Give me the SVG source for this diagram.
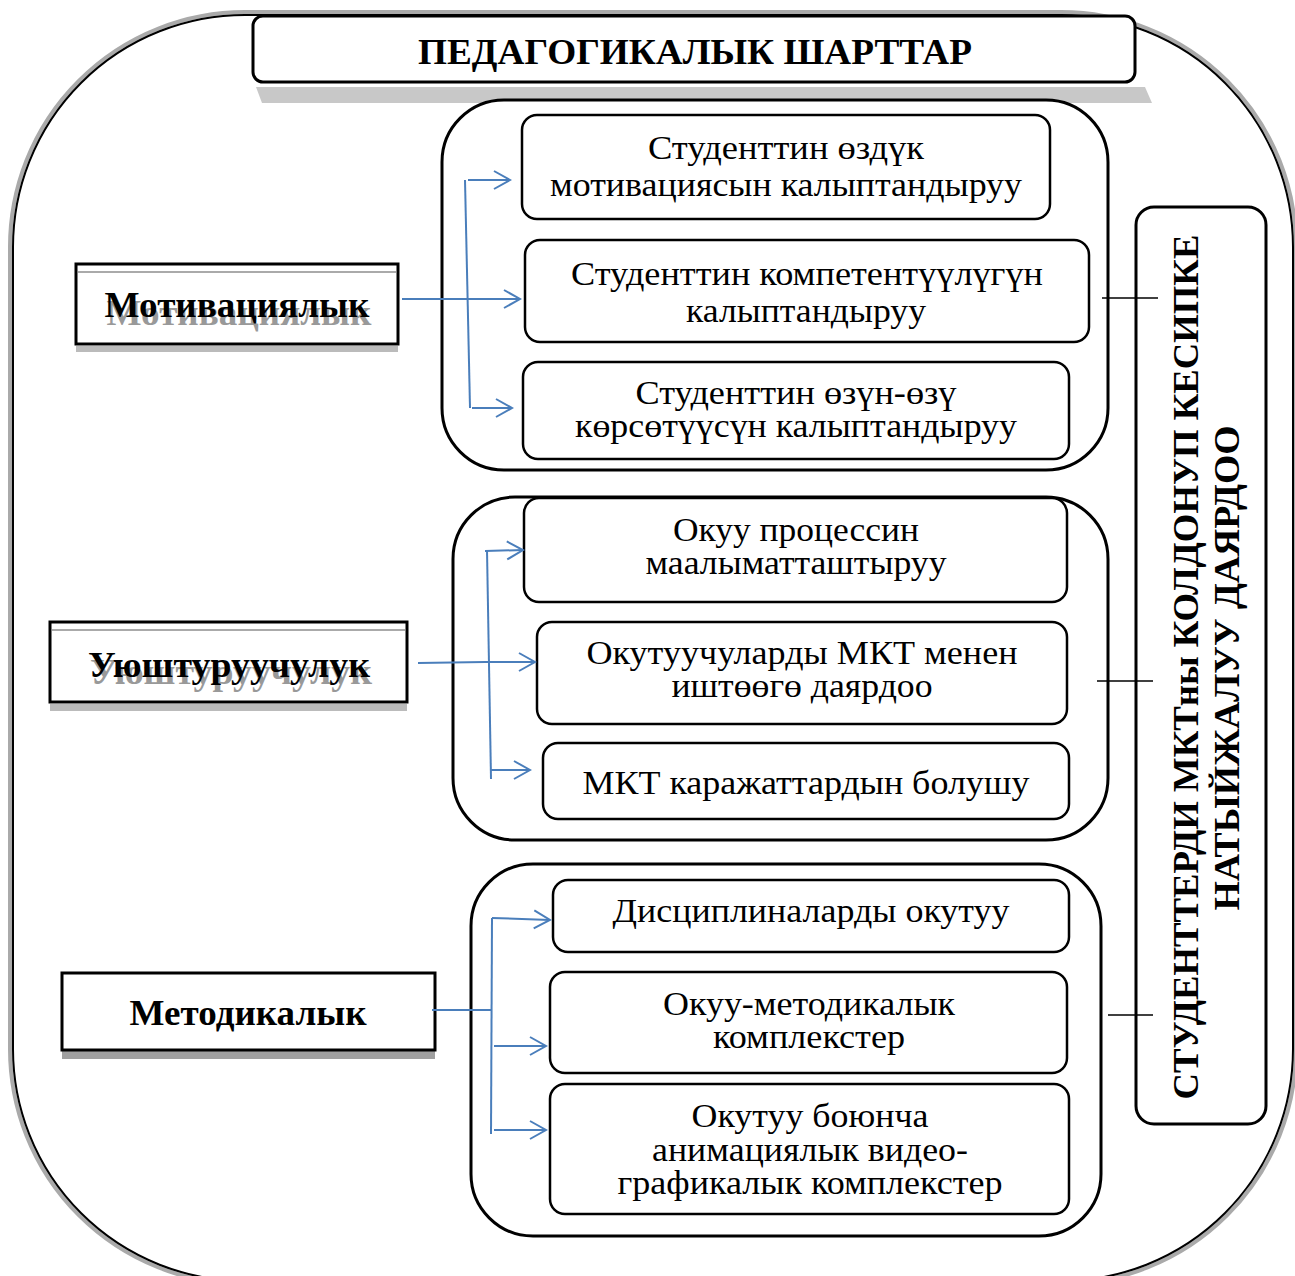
<svg xmlns="http://www.w3.org/2000/svg" width="1295" height="1276" viewBox="0 0 1295 1276">
<style>
.ser{font-family:"Liberation Serif","Times New Roman",serif;}
.t{font-family:"Liberation Serif","Times New Roman",serif;font-size:33px;text-anchor:middle;fill:#000;}
.lb{font-family:"Liberation Serif","Times New Roman",serif;font-size:35px;font-weight:bold;text-anchor:middle;}
.box{fill:#fff;stroke:#000;stroke-width:2.5;}
.grp{fill:#fff;stroke:#000;stroke-width:3;}
.con{stroke:#4a7ebb;stroke-width:2;fill:none;}
.blk{stroke:#000;stroke-width:1.5;fill:none;}
</style>
<defs>
<marker id="arr" markerUnits="userSpaceOnUse" markerWidth="20" markerHeight="22" refX="18" refY="11" orient="auto">
<path d="M2,2 L18,11 L2,20" fill="none" stroke="#4a7ebb" stroke-width="2"/>
</marker>
</defs>
<rect width="1295" height="1276" fill="#fff"/>
<g id="frame">
<rect x="10" y="12" width="1286" height="1272" rx="235" fill="none" stroke="#aaa" stroke-width="4"/>
<rect x="13" y="15" width="1280" height="1266" rx="232" fill="none" stroke="#000" stroke-width="2"/>
</g>
<g id="title">
<polygon points="256,87 1145,87 1152,103 262,103" fill="#c8c8c8"/>
<rect x="253" y="16" width="882" height="66" rx="10" fill="#fff" stroke="#000" stroke-width="3"/>
<text x="695" y="64" class="ser" font-size="36" font-weight="bold" text-anchor="middle" textLength="554" lengthAdjust="spacingAndGlyphs">ПЕДАГОГИКАЛЫК ШАРТТАР</text>
</g>
<g id="group1">
<rect class="grp" x="442" y="100" width="666" height="370" rx="62"/>
</g>
<g id="group2">
<rect class="grp" x="453" y="497" width="655" height="343" rx="62"/>
</g>
<g id="group3">
<rect class="grp" x="471" y="864" width="630" height="372" rx="62"/>
</g>
<g id="b1"><rect class="box" x="522" y="115" width="528" height="104" rx="15"/>
<text class="t" x="786" y="159" textLength="276" lengthAdjust="spacingAndGlyphs">Студенттин өздүк</text><text class="t" x="786" y="196" textLength="472" lengthAdjust="spacingAndGlyphs">мотивациясын калыптандыруу</text></g>
<g id="b2"><rect class="box" x="525" y="240" width="564" height="102" rx="15"/>
<text class="t" x="807" y="285" textLength="472" lengthAdjust="spacingAndGlyphs">Студенттин компетентүүлүгүн</text><text class="t" x="806" y="322" textLength="240" lengthAdjust="spacingAndGlyphs">калыптандыруу</text></g>
<g id="b3"><rect class="box" x="523" y="362" width="546" height="97" rx="15"/>
<text class="t" x="796" y="404" textLength="321" lengthAdjust="spacingAndGlyphs">Студенттин өзүн-өзү</text><text class="t" x="796" y="437" textLength="442" lengthAdjust="spacingAndGlyphs">көрсөтүүсүн калыптандыруу</text></g>
<g id="b4"><rect class="box" x="524" y="498" width="543" height="104" rx="15"/>
<text class="t" x="796" y="541" textLength="246" lengthAdjust="spacingAndGlyphs">Окуу процессин</text><text class="t" x="796" y="574" textLength="301" lengthAdjust="spacingAndGlyphs">маалыматташтыруу</text></g>
<g id="b5"><rect class="box" x="537" y="622" width="530" height="102" rx="15"/>
<text class="t" x="802" y="664" textLength="431" lengthAdjust="spacingAndGlyphs">Окутуучуларды МКТ менен</text><text class="t" x="802" y="697" textLength="261" lengthAdjust="spacingAndGlyphs">иштөөгө даярдоо</text></g>
<g id="b6"><rect class="box" x="543" y="743" width="526" height="76" rx="15"/>
<text class="t" x="806" y="794" textLength="447" lengthAdjust="spacingAndGlyphs">МКТ каражаттардын болушу</text></g>
<g id="b7"><rect class="box" x="553" y="880" width="516" height="72" rx="15"/>
<text class="t" x="811" y="922" textLength="397" lengthAdjust="spacingAndGlyphs">Дисциплиналарды окутуу</text></g>
<g id="b8"><rect class="box" x="550" y="972" width="517" height="101" rx="15"/>
<text class="t" x="809" y="1015" textLength="292" lengthAdjust="spacingAndGlyphs">Окуу-методикалык</text><text class="t" x="809" y="1048" textLength="192" lengthAdjust="spacingAndGlyphs">комплекстер</text></g>
<g id="b9"><rect class="box" x="550" y="1084" width="519" height="130" rx="15"/>
<text class="t" x="810" y="1127" textLength="237" lengthAdjust="spacingAndGlyphs">Окутуу боюнча</text><text class="t" x="810" y="1161" textLength="316" lengthAdjust="spacingAndGlyphs">анимациялык видео-</text><text class="t" x="810" y="1194" textLength="385" lengthAdjust="spacingAndGlyphs">графикалык комплекстер</text></g>
<g id="motiv">
<rect x="76" y="346" width="322" height="6" fill="#bbb"/>
<rect x="76" y="264" width="322" height="80" fill="#fff" stroke="#000" stroke-width="3"/>
<line x1="78" y1="272" x2="396" y2="272" stroke="#aaa" stroke-width="2"/>
<text class="lb" x="239" y="325" fill="#999" textLength="265" lengthAdjust="spacingAndGlyphs">Мотивациялык</text>
<text class="lb" x="237" y="317" fill="#000" textLength="265" lengthAdjust="spacingAndGlyphs">Мотивациялык</text>
</g>
<g id="uyush">
<rect x="50" y="704" width="357" height="7" fill="#bbb"/>
<rect x="50" y="622" width="357" height="80" fill="#fff" stroke="#000" stroke-width="3"/>
<line x1="52" y1="630" x2="405" y2="630" stroke="#aaa" stroke-width="2"/>
<text class="lb" x="231" y="684" fill="#999" textLength="282" lengthAdjust="spacingAndGlyphs">Уюштуруучулук</text>
<text class="lb" x="229" y="677" fill="#000" textLength="282" lengthAdjust="spacingAndGlyphs">Уюштуруучулук</text>
</g>
<g id="metod">
<rect x="62" y="1050" width="373" height="9" fill="#a0a0a0"/>
<rect x="62" y="973" width="373" height="77" fill="#fff" stroke="#000" stroke-width="3"/>
<text class="lb" x="248" y="1025" fill="#000" textLength="237" lengthAdjust="spacingAndGlyphs">Методикалык</text>
</g>
<g id="result">
<rect x="1136" y="207" width="130" height="917" rx="18" fill="#fff" stroke="#000" stroke-width="3"/>
<text class="ser" font-size="36" font-weight="bold" text-anchor="middle" transform="translate(1198,667) rotate(-90)" textLength="865" lengthAdjust="spacingAndGlyphs">СТУДЕНТТЕРДИ  МКТны КОЛДОНУП КЕСИПКЕ</text>
<text class="ser" font-size="36" font-weight="bold" text-anchor="middle" transform="translate(1239,668) rotate(-90)" textLength="485" lengthAdjust="spacingAndGlyphs">НАТЫЙЖАЛУУ  ДАЯРДОО</text>
</g>
<g id="connectors">
<line class="con" x1="402" y1="299" x2="520" y2="299" marker-end="url(#arr)"/>
<line class="con" x1="465" y1="180" x2="470" y2="408"/>
<line class="con" x1="468" y1="180" x2="510" y2="180" marker-end="url(#arr)"/>
<line class="con" x1="472" y1="408" x2="512" y2="408" marker-end="url(#arr)"/>
<line class="con" x1="418" y1="663" x2="485" y2="662"/>
<line class="con" x1="487" y1="550" x2="491" y2="779"/>
<line class="con" x1="485" y1="551" x2="523" y2="550" marker-end="url(#arr)"/>
<line class="con" x1="485" y1="662" x2="535" y2="662" marker-end="url(#arr)"/>
<line class="con" x1="491" y1="770" x2="530" y2="770" marker-end="url(#arr)"/>
<line class="con" x1="432" y1="1010" x2="492" y2="1010"/>
<line class="con" x1="492" y1="918" x2="491" y2="1134"/>
<line class="con" x1="492" y1="918" x2="550" y2="920" marker-end="url(#arr)"/>
<line class="con" x1="494" y1="1046" x2="546" y2="1046" marker-end="url(#arr)"/>
<line class="con" x1="494" y1="1130" x2="546" y2="1130" marker-end="url(#arr)"/>
<line class="blk" x1="1102" y1="298" x2="1158" y2="298"/>
<line class="blk" x1="1097" y1="681" x2="1153" y2="681"/>
<line class="blk" x1="1108" y1="1015" x2="1153" y2="1015"/>
</g>
</svg>
